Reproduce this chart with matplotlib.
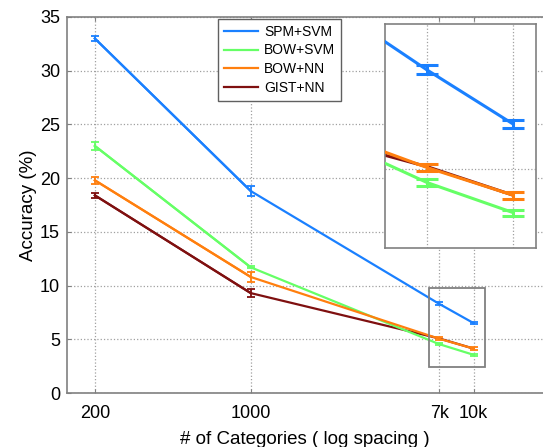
import numpy as np
import matplotlib
matplotlib.use("Agg")
import matplotlib.pyplot as plt
from matplotlib.patches import Rectangle

plt.rcParams['font.family'] = ['Liberation Sans', 'DejaVu Sans']

# donnees
categories = [200, 1000, 7000, 10000]
tick_labels = ['200', '1000', '7k', '10k']

spm_svm = [33.0, 18.8, 8.3, 6.5]
spm_svm_err = [0.25, 0.45, 0.15, 0.12]
bow_svm = [23.0, 11.7, 4.55, 3.55]
bow_svm_err = [0.4, 0.1, 0.11, 0.1]
bow_nn = [19.8, 10.8, 5.05, 4.13]
bow_nn_err = [0.3, 0.5, 0.12, 0.12]
gist_nn = [18.4, 9.3, 5.08, 4.13]
gist_nn_err = [0.25, 0.4, 0.0, 0.0]

noms = ['SPM+SVM', 'BOW+SVM', 'BOW+NN', 'GIST+NN']
couleurs = ['#1a80ff', '#66ff66', '#ff7f0e', '#7f1010']
series = [(spm_svm, spm_svm_err), (bow_svm, bow_svm_err),
          (bow_nn, bow_nn_err), (gist_nn, gist_nn_err)]
ordre_z = [4, 3, 3.5, 2]

W, H = 543, 447
fig = plt.figure(figsize=(W / 100, H / 100), dpi=100)
ax = fig.add_axes([67 / W, 1 - 393 / H, (543 - 67) / W, (393 - 17) / H])

handles = []
for (y, e), c, nom, z in zip(series, couleurs, noms, ordre_z):
    cap = 0 if nom == 'GIST+NN' else 2.8
    h = ax.errorbar(categories[:2], y[:2], yerr=e[:2], color=c, lw=1.6, capsize=2.8,
                    capthick=1.3, elinewidth=1.3, zorder=z)
    ax.errorbar(categories[2:], y[2:], yerr=e[2:], color=c, capsize=cap,
                capthick=1.3, elinewidth=1.3, fmt='none', zorder=z)
    ln, = ax.plot(categories, y, color=c, lw=1.6, zorder=z, label=nom)
    handles.append(ln)

ax.set_xscale('log')
ax.set_xlim(150, 20460)
ax.set_ylim(0, 35)
ax.set_xticks(categories)
ax.set_xticklabels(tick_labels)
ax.minorticks_off()
ax.set_yticks(np.arange(0, 36, 5))
ax.grid(True, linestyle=':', color='#a0a0a0', linewidth=0.9)
ax.tick_params(direction='in', length=3, labelsize=13, colors='#808080',
               labelcolor='black', top=True, pad=5)
ax.tick_params(axis='x', pad=9)
for s in ['left', 'bottom', 'top']:
    ax.spines[s].set_color('#808080')
    ax.spines[s].set_linewidth(1.2)
ax.spines['right'].set_visible(False)
ax.set_xlabel('# of Categories ( log spacing )', fontsize=13.5, labelpad=6)
ax.set_ylabel('Accuracy (%)', fontsize=13.5, labelpad=2)

leg = ax.legend(handles, noms, loc='upper left',
                bbox_to_anchor=(218 / W, 1 - 19 / H), bbox_transform=fig.transFigure,
                borderaxespad=0, fontsize=10, fancybox=False, framealpha=1,
                edgecolor='#606060', handlelength=2.5, borderpad=0.4,
                labelspacing=0.35, handletextpad=0.4)
leg.get_frame().set_linewidth(1.0)

# cadre du zoom
ax.add_patch(Rectangle((6300, 2.4), 11200 - 6300, 9.8 - 2.4, fill=False,
                       edgecolor='#808080', lw=1.3, zorder=5))

# encart
axi = fig.add_axes([385 / W, 1 - 248 / H, (536 - 385) / W, (248 - 24) / H])
for (y, e), c, nom, z in zip(series, couleurs, noms, ordre_z):
    if nom == 'GIST+NN':
        axi.plot(categories, y, color=c, lw=2.2, zorder=z)
    else:
        axi.errorbar(categories, y, yerr=e, color=c, lw=2.2, capsize=8,
                     capthick=2.2, elinewidth=2.2, zorder=z)
axi.set_xscale('log')
axi.set_xlim(5880, 11000)
axi.set_ylim(2.37, 9.83)
axi.minorticks_off()
axi.set_xticks([7000, 10000])
axi.set_yticks([5])
axi.set_xticklabels([])
axi.set_yticklabels([])
axi.tick_params(length=0)
axi.grid(True, linestyle=':', color='#a0a0a0', linewidth=0.9)
for s in axi.spines.values():
    s.set_color('#808080')
    s.set_linewidth(1.2)

fig.savefig('out.png', dpi=100)
